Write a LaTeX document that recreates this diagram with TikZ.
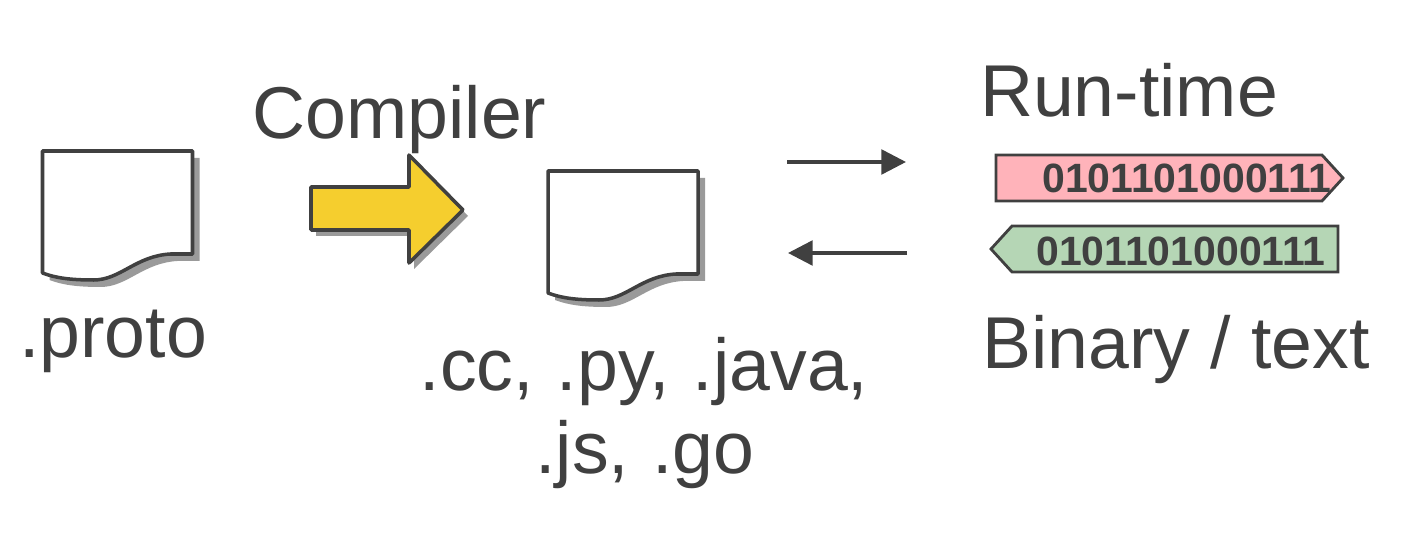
\documentclass[tikz,border=0pt]{standalone}
\usepackage{fontspec}
\setmainfont{Liberation Sans}
\usetikzlibrary{arrows.meta}

\definecolor{inkgray}{HTML}{404040}
\definecolor{shadegray}{HTML}{9A9A9A}
\definecolor{arrowyellow}{HTML}{F5CE2E}
\definecolor{bandred}{HTML}{FFB3BA}
\definecolor{bandgreen}{HTML}{B5D6B5}

\tikzset{
  bigtext/.style={text=inkgray, inner sep=0pt, anchor=base, font=\fontsize{41.8}{48}\selectfont},
  bittext/.style={text=inkgray, inner sep=0pt, anchor=base, font=\fontsize{23.3}{26}\selectfont\bfseries},
  outline/.style={draw=inkgray, line width=2pt, line join=round},
  swaparrow/.style={draw=inkgray, line width=2pt, -{Triangle[length=14pt,width=14pt]}},
  pics/docsheet/.style={code={
    % ---------- shadow, then sheet ----------
    \fill[shadegray] (7,7) -- (157,7) -- (157,110) -- (135,110) .. controls (100,112) and (85,136) .. (58,136) .. controls (35,136) and (20,134) .. (7,129) -- cycle;
    \draw[outline, fill=white] (0,0) -- (150,0) -- (150,103) -- (128,103) .. controls (93,105) and (78,129) .. (51,129) .. controls (28,129) and (13,127) .. (0,122) -- cycle;
  }},
}

\begin{document}
\begin{tikzpicture}[x=0.02cm,y=-0.02cm]
\useasboundingbox (0,0) rectangle (1406,546);

% ---------- source file ----------
\pic at (42.5,151) {docsheet};
\node[bigtext] (proto) at (113,358) {.proto};

% ---------- compiler arrow ----------
\fill[shadegray] (316,193) -- (414,193) -- (414,161) -- (468,216) -- (414,269) -- (414,236) -- (316,236) -- cycle;
\draw[outline, fill=arrowyellow] (311,187) -- (409,187) -- (409,155) -- (463,210) -- (409,263) -- (409,230) -- (311,230) -- cycle;
\node[bigtext] (compiler) at (399.5,139) {Compiler};

% ---------- generated files ----------
\pic at (548,171) {docsheet};
\node[bigtext] (langs) at (644,391) {.cc,\hspace{1.5pt} .py,\hspace{1.5pt} .java,};
\node[bigtext] (langsb) at (645,474) {.js,\hspace{1.5pt} .go};

% ---------- send and receive ----------
\coordinate (sendstart) at (787,162);
\coordinate (sendend) at (906,162);
\coordinate (recvstart) at (907,253);
\coordinate (recvend) at (788,253);
\draw[swaparrow] (sendstart) -- (sendend);
\draw[swaparrow] (recvstart) -- (recvend);

% ---------- run-time data ----------
\node[bigtext] (runtime) at (1129,117) {Run-time};
\draw[draw=inkgray, line width=1.6pt, fill=bandred] (996,155) -- (1322,155) -- (1343,178) -- (1322,201) -- (996,201) -- cycle;
\node[bittext] (redbits) at (1187,193) {0101101000111};
\draw[draw=inkgray, line width=1.6pt, fill=bandgreen] (991,249) -- (1012,226) -- (1338,226) -- (1338,272) -- (1012,272) -- cycle;
\node[bittext] (greenbits) at (1181,266) {0101101000111};
\node[bigtext] (format) at (1176,369) {Binary / text};

\end{tikzpicture}
\end{document}
